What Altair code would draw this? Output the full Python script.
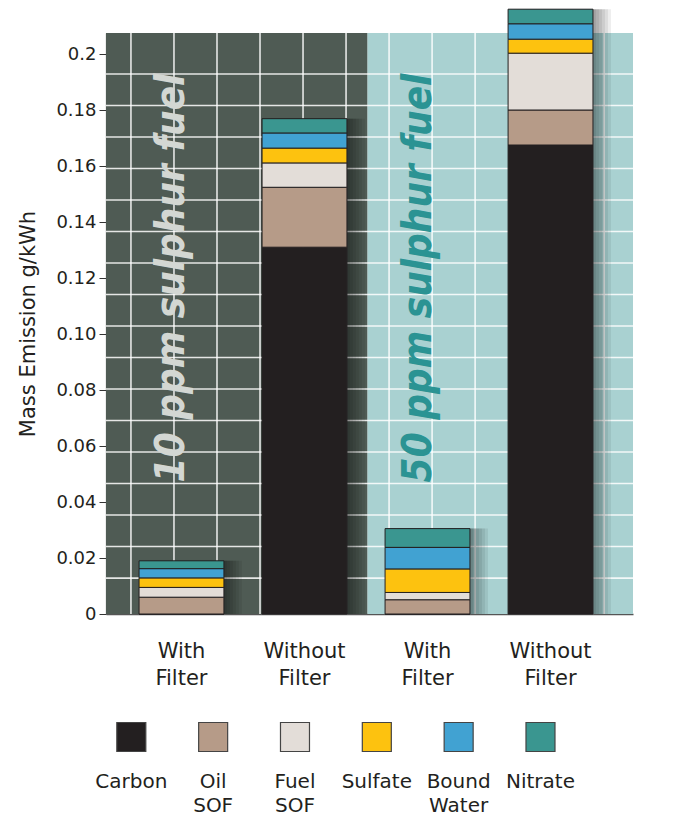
import altair as alt
import pandas as pd

# ---------------- data ----------------
bar_keys = ["10 ppm|With Filter", "10 ppm|Without Filter",
            "50 ppm|With Filter", "50 ppm|Without Filter"]
components = ["Carbon", "Oil SOF", "Fuel SOF", "Sulfate", "Bound Water", "Nitrate"]
carbon      = [0.0,    0.1310, 0.0,    0.1675]
oil_sof     = [0.0060, 0.0214, 0.0051, 0.0125]
fuel_sof    = [0.0035, 0.0087, 0.0026, 0.0203]
sulfate     = [0.0034, 0.0053, 0.0084, 0.0050]
bound_water = [0.0033, 0.0054, 0.0077, 0.0055]
nitrate     = [0.0028, 0.0051, 0.0067, 0.0052]
y_ticks = [0, 0.02, 0.04, 0.06, 0.08, 0.10, 0.12, 0.14, 0.16, 0.18, 0.2]
annotations = ["10 ppm sulphur fuel", "50 ppm sulphur fuel"]

# ---------------- styles ----------------
comp_colors = ["#231f20", "#b69b88", "#e3ddd8", "#fdc20f", "#41a2d2", "#3a9690"]
DARK_BG = "#4f5b54"
LIGHT_BG = "#a9d1d1"
FONT = "DejaVu Sans"
TXT = "#231f20"

series = [carbon, oil_sof, fuel_sof, sulfate, bound_water, nitrate]
rows = []
for ci, (comp, vals) in enumerate(zip(components, series)):
    for bk, v in zip(bar_keys, vals):
        rows.append({"bar": bk, "component": comp, "value": v, "order": ci})
df = pd.DataFrame(rows)

# ---------------- layout (decorative panel) ----------------
W, H = 527, 581
Y_MAX = 0.2075
BAR_BAND = 0.69
grid_x_dom = [-0.58, 11.67]        # background grid units (vertical lines at integers)
grid_y_dom = [-0.14, 18.3]         # background grid units (horizontal lines at integers)
panel = pd.DataFrame({"start": [grid_x_dom[0], 5.5], "end": [5.5, grid_x_dom[1]],
                      "zone": ["dark", "light"]})
gx_scale = alt.Scale(domain=grid_x_dom, nice=False, zero=False)
gy_scale = alt.Scale(domain=grid_y_dom, nice=False, zero=False)

regions = alt.Chart(panel).mark_rect().encode(
    x=alt.X("start:Q", scale=gx_scale, axis=None),
    x2="end:Q",
    color=alt.Color("zone:N", scale=alt.Scale(domain=["dark", "light"],
                                              range=[DARK_BG, LIGHT_BG]), legend=None),
)
vlines = alt.Chart(alt.sequence(0, 12, as_="g")).mark_rule(
    color="#ffffff", strokeWidth=1.6, opacity=0.85
).encode(x=alt.X("g:Q", scale=gx_scale, axis=None))
hlines = alt.Chart(alt.sequence(1, 18, as_="g")).mark_rule(
    color="#ffffff", strokeWidth=1.6, opacity=0.85
).encode(y=alt.Y("g:Q", scale=gy_scale, axis=None))
background = alt.layer(regions, vlines, hlines)

# ---------------- main layer ----------------
x_scale = alt.Scale(domain=bar_keys, paddingInner=0, paddingOuter=0.142, align=0.4)
y_scale = alt.Scale(domain=[0, Y_MAX], nice=False, zero=True)

x_axis = alt.Axis(
    orient="bottom", title=None, ticks=False, labelAngle=0,
    labelExpr="split(slice(datum.value, indexof(datum.value, '|') + 1), ' ')",
    labelFont=FONT, labelFontSize=21, labelColor=TXT, labelPadding=26,
    labelLineHeight=27, domainColor="#555555", domainWidth=1.5,
)
y_axis = alt.Axis(
    orient="left", values=y_ticks, grid=False,
    labelExpr="datum.value == 0 ? '0' : (datum.value > 0.199 ? '0.2' : format(datum.value, '.2f'))",
    labelFont=FONT, labelFontSize=18, labelColor=TXT, labelPadding=3,
    tickColor="#333333", tickSize=7, domainColor="#444444", domainWidth=1.2,
    title="Mass Emission g/kWh", titleFont=FONT, titleFontSize=21,
    titleFontWeight="normal", titleColor=TXT, titlePadding=17,
)

# soft drop shadow to the right of each stacked bar
shadows = [
    alt.Chart(df).transform_aggregate(
        total="sum(value)", groupby=["bar"]
    ).mark_bar(
        color="#000000", opacity=0.07, xOffset=off, width=alt.RelativeBandSize(BAR_BAND)
    ).encode(
        x=alt.X("bar:N", sort=bar_keys, scale=x_scale, axis=x_axis),
        y=alt.Y("total:Q", scale=y_scale, axis=y_axis),
    )
    for off in (3, 6, 9, 12, 15, 18)
]

bars = alt.Chart(df).mark_bar(
    stroke="#231f20", strokeWidth=1, width=alt.RelativeBandSize(BAR_BAND)
).encode(
    x=alt.X("bar:N", sort=bar_keys, scale=x_scale, axis=x_axis),
    y=alt.Y("value:Q", stack="zero", scale=y_scale, axis=y_axis),
    color=alt.Color("component:N", scale=alt.Scale(domain=components, range=comp_colors),
                    legend=None),
    order=alt.Order("order:Q", sort="ascending"),
)

ann_df = pd.DataFrame({"bar": [bar_keys[0], bar_keys[2]], "label": annotations,
                       "pos": [0.12, 0.12]})

def ann_layer(i, color):
    return alt.Chart(ann_df.iloc[[i]]).mark_text(
        angle=270, align="center", baseline="middle", dy=-9,
        font="DejaVu Sans Condensed", fontSize=40,
        fontWeight="bold", fontStyle="italic", color=color,
    ).encode(
        x=alt.X("bar:N", sort=bar_keys, scale=x_scale, axis=x_axis),
        y=alt.Y("pos:Q", scale=y_scale, axis=y_axis),
        text="label:N",
    )

foreground = alt.layer(ann_layer(0, "#d3d7d3"), ann_layer(1, "#2b9393"), *shadows, bars)

main = alt.layer(background, foreground).resolve_scale(
    x="independent", y="independent", color="independent"
).properties(width=W, height=H)

# ---------------- custom legend ----------------
legend_df = pd.DataFrame({"component": components,
                          "label": [c.replace(" ", "\n") for c in components]})
lx = alt.X("component:N", sort=components, axis=None,
           scale=alt.Scale(domain=components, paddingInner=0, paddingOuter=0,
                           range=[-15.6, 475.4]))
squares = alt.Chart(legend_df).mark_square(
    size=841, opacity=1, stroke="#444444", strokeWidth=1.2
).encode(
    x=lx,
    color=alt.Color("component:N", scale=alt.Scale(domain=components, range=comp_colors),
                    legend=None),
)
labels = alt.Chart(legend_df).mark_text(
    baseline="top", align="center", dy=35, lineBreak="\n", lineHeight=24,
    font=FONT, fontSize=20, color=TXT,
).encode(x=lx, text="label:N")
legend = alt.layer(squares, labels).properties(width=W, height=82)

chart = alt.vconcat(main, legend, spacing=8).configure_view(
    strokeWidth=0
).properties(
    padding={"left": 9, "top": 0, "right": 5, "bottom": 0},
    background="#ffffff",
)

chart.save("out.html", embed_options={"renderer": "svg", "actions": False})
